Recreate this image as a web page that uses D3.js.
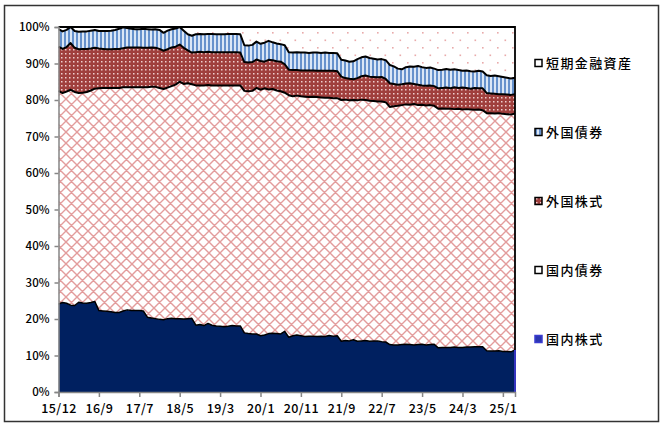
<!DOCTYPE html>
<html>
<head>
<meta charset="utf-8">
<script src="https://cdnjs.cloudflare.com/ajax/libs/d3/7.8.5/d3.min.js"></script>
<style>
  body { margin: 0; background: #fff; }
  svg text { font-family: "Noto Sans CJK JP", "Noto Sans", sans-serif; fill: #000; font-weight: 500; }
</style>
</head>
<body>
<div id="chart"></div>
<script>
// monthly shares (%), one value per category
var domesticStock = [
  24.1,24.5,24.3,23.8,23.7,24.6,24.4,24.3,24.5,24.8,
  22.3,22.2,22.1,22.0,21.8,21.8,22.2,22.5,22.3,22.3,
  22.3,22.2,20.5,20.3,20.1,19.9,19.8,20.1,20.2,20.1,
  20.1,20.0,20.1,20.2,18.3,18.5,18.2,18.8,18.3,18.1,
  18.0,17.9,18.0,18.2,18.1,18.1,16.2,16.0,15.9,15.9,
  15.4,15.6,16.0,16.1,16.0,15.9,16.6,15.0,15.4,15.6,
  15.4,15.2,15.3,15.3,15.2,15.3,15.2,15.5,15.3,15.4,
  13.9,14.1,14.0,14.3,13.9,14.0,14.1,13.9,14.0,14.0,
  13.8,13.7,13.0,12.9,12.9,13.0,13.1,13.0,12.9,13.0,
  13.1,12.9,13.0,13.1,12.1,12.2,12.2,12.2,12.3,12.2,
  12.2,12.3,12.3,12.4,12.4,12.4,11.3,11.2,11.2,11.3,
  11.1,11.1,11.0,11.5];
var domesticBond = [
  58.4,57.4,58.0,59.0,58.5,57.3,57.6,57.9,58.1,58.3,
  60.9,61.1,61.2,61.3,61.5,61.5,61.3,61.0,61.2,61.2,
  61.2,61.3,63.0,63.3,63.5,63.4,63.2,63.3,63.6,64.1,
  64.9,64.4,64.5,64.1,65.7,65.5,65.8,65.3,65.7,65.9,
  66.0,66.1,66.0,65.8,65.9,65.9,66.3,66.4,66.6,67.4,
  67.4,67.6,66.9,66.9,66.6,66.5,65.4,66.3,65.6,65.6,
  65.6,65.7,65.5,65.6,65.6,65.4,65.4,65.1,65.2,65.1,
  66.1,66.0,65.9,65.7,66.0,66.1,65.9,65.9,65.7,65.6,
  65.8,65.7,65.1,65.4,65.5,65.6,65.7,65.7,66.0,65.6,
  65.6,65.6,65.6,65.3,65.5,65.5,65.4,65.4,65.2,65.4,
  65.2,65.2,65.1,64.9,65.0,64.8,65.1,65.2,65.1,65.1,
  65.1,65.0,65.0,64.8];
var foreignStock = [
  12.1,12.1,12.2,12.8,12.1,12.0,12.0,11.8,11.5,11.2,
  10.9,10.7,10.6,10.6,10.7,10.7,10.7,10.9,10.9,10.9,
  10.9,10.8,10.8,10.8,10.7,10.7,10.5,10.5,10.6,10.4,
  10.2,9.9,9.0,8.7,9.1,9.2,9.1,9.1,9.1,9.1,
  9.1,9.1,9.1,9.1,9.1,9.0,7.9,7.9,7.9,7.8,
  7.9,7.3,8.1,7.9,8.0,8.1,7.8,7.0,7.2,7.0,
  7.1,7.2,7.3,7.2,7.2,7.3,7.4,7.4,7.5,7.4,
  6.4,5.9,5.9,5.7,6.1,6.4,6.7,6.6,6.6,6.6,
  6.7,6.4,6.5,6.1,5.8,5.7,5.7,5.9,5.5,5.6,
  5.3,5.4,5.4,5.4,5.6,5.6,5.8,5.6,6.0,5.7,
  6.0,5.8,5.7,6.0,5.8,6.0,5.5,5.4,5.4,5.2,
  5.4,5.4,5.4,5.3];
var foreignBond = [
  4.8,4.8,4.7,4.4,4.6,4.8,4.8,4.8,4.9,4.9,
  4.8,4.9,5.0,5.1,5.2,5.5,5.7,5.3,5.1,5.0,
  5.0,5.2,5.1,4.9,5.1,5.2,4.9,5.1,5.0,5.0,
  4.8,4.7,4.4,4.6,4.9,4.9,4.9,4.9,5.0,4.9,
  4.9,4.9,5.0,5.0,5.0,5.0,4.6,4.6,4.7,4.9,
  4.7,5.2,5.2,4.9,4.9,4.8,5.2,4.8,4.8,4.9,
  4.9,4.9,4.8,4.9,5.0,4.9,5.0,4.9,4.9,4.9,
  4.6,4.8,4.7,4.9,5.2,5.2,5.2,5.1,5.0,4.9,
  4.9,5.1,5.0,4.8,4.4,4.1,4.5,4.6,4.7,5.1,
  5.0,4.9,4.9,4.8,5.0,5.0,5.1,5.1,4.9,4.9,
  4.6,4.8,4.8,4.5,4.8,4.6,4.9,4.8,5.0,4.9,
  4.7,4.6,4.5,4.5];
var shortTerm = [
  0.6,1.2,0.8,0.0,1.1,1.3,1.2,1.2,1.0,0.8,
  1.1,1.1,1.1,1.0,0.8,0.5,0.1,0.3,0.5,0.6,
  0.6,0.5,0.6,0.7,0.6,0.8,1.6,1.0,0.6,0.4,
  0.0,1.0,2.0,2.4,2.0,1.9,2.0,1.9,1.9,2.0,
  2.0,2.0,1.9,1.9,1.9,2.0,5.0,5.1,4.9,4.0,
  4.6,4.3,3.8,4.2,4.5,4.7,5.0,6.9,7.0,6.9,
  7.0,7.0,7.1,7.0,7.0,7.1,7.0,7.1,7.1,7.2,
  9.0,9.2,9.5,9.4,8.8,8.3,8.1,8.5,8.7,8.9,
  8.8,9.1,10.4,10.8,11.4,11.6,11.0,10.8,10.9,10.7,
  11.0,11.2,11.1,11.4,11.8,11.7,11.5,11.7,11.6,11.8,
  12.0,11.9,12.1,12.2,12.0,12.2,13.2,13.4,13.3,13.5,
  13.7,13.9,14.1,13.9];

// axis labels: one label every 10 categories
var tickLabels = ['15/12','16/9','17/7','18/5','19/3','20/1','20/11','21/9','22/7','23/5','24/3','25/1'];
var tickEvery = 10;
var yTicks = [0,10,20,30,40,50,60,70,80,90,100];

var keys = ['ds','db','fs','fb','st'];
var seriesNames = {ds:'国内株式', db:'国内債券', fs:'外国株式', fb:'外国債券', st:'短期金融資産'};
var legendOrder = ['st','fb','fs','db','ds'];

var W = 663, H = 425;
var plot = {left: 58.5, right: 515, top: 27, bottom: 392};

var n = domesticStock.length;
var rows = d3.range(n).map(function(i) {
  return {i: i, ds: domesticStock[i], db: domesticBond[i], fs: foreignStock[i], fb: foreignBond[i], st: shortTerm[i]};
});
var layers = d3.stack().keys(keys)(rows);

var x = d3.scaleLinear().domain([0, n - 1]).range([plot.left, plot.right]);
var y = d3.scaleLinear().domain([0, 100]).range([plot.bottom, plot.top]);

var svg = d3.select('#chart').append('svg')
  .attr('width', W).attr('height', H);

// fill patterns
var defs = svg.append('defs');

var pX = defs.append('pattern').attr('id', 'p-db')
  .attr('patternUnits', 'userSpaceOnUse').attr('width', 11).attr('height', 11);
pX.append('rect').attr('width', 11).attr('height', 11).attr('fill', '#fff');
pX.append('path').attr('d', 'M0,0L11,11M11,0L0,11M-1,10L1,12M10,-1L12,1M-1,1L1,-1M10,12L12,10')
  .attr('stroke', '#e39c9c').attr('stroke-width', 1.4);

var pR = defs.append('pattern').attr('id', 'p-fs')
  .attr('patternUnits', 'userSpaceOnUse').attr('width', 4).attr('height', 4);
pR.append('rect').attr('width', 4).attr('height', 4).attr('fill', '#a03f3d');
pR.append('rect').attr('x', 1).attr('y', 1).attr('width', 1.5).attr('height', 1.5).attr('fill', '#f0cfcf');

var pB = defs.append('pattern').attr('id', 'p-fb')
  .attr('patternUnits', 'userSpaceOnUse').attr('width', 4).attr('height', 4);
pB.append('rect').attr('width', 4).attr('height', 4).attr('fill', '#dae6f6');
pB.append('rect').attr('width', 2).attr('height', 4).attr('fill', '#6691cc');

var pS = defs.append('pattern').attr('id', 'p-st')
  .attr('patternUnits', 'userSpaceOnUse').attr('width', 15).attr('height', 15);
pS.append('rect').attr('width', 15).attr('height', 15).attr('fill', '#fff');
pS.append('rect').attr('x', 2).attr('y', 2).attr('width', 1.6).attr('height', 1.6).attr('fill', '#e9aaaa');
pS.append('rect').attr('x', 9.5).attr('y', 9.5).attr('width', 1.6).attr('height', 1.6).attr('fill', '#e9aaaa');

var fills = {ds: '#002060', db: 'url(#p-db)', fs: 'url(#p-fs)', fb: 'url(#p-fb)', st: 'url(#p-st)'};

defs.append('clipPath').attr('id', 'clip').append('rect')
  .attr('x', plot.left).attr('y', plot.top)
  .attr('width', plot.right - plot.left).attr('height', plot.bottom - plot.top);

// outer frame
svg.append('rect').attr('x', 4.5).attr('y', 5.5).attr('width', 654).attr('height', 416)
  .attr('fill', 'none').attr('stroke', '#333').attr('stroke-width', 1.5);

var g = svg.append('g').attr('clip-path', 'url(#clip)');

var area = d3.area()
  .x(function(d) { return x(d.data.i); })
  .y0(function(d) { return y(d[0]); })
  .y1(function(d) { return y(d[1]); });

g.selectAll('.layer').data(layers).enter().append('path')
  .attr('class', 'layer')
  .attr('d', area)
  .attr('fill', function(d) { return fills[d.key]; });

// borders between the layers
var topLine = d3.line()
  .x(function(d) { return x(d.data.i); })
  .y(function(d) { return y(d[1]); });

g.selectAll('.edge').data(layers.slice(0, 4)).enter().append('path')
  .attr('class', 'edge')
  .attr('d', topLine)
  .attr('fill', 'none')
  .attr('stroke', '#000')
  .attr('stroke-width', function(d, i) { return i === 0 ? 1.5 : 2; })
  .attr('stroke-linejoin', 'round');

// plot border (top and right)
svg.append('path')
  .attr('d', 'M' + plot.left + ',' + plot.top + 'H' + plot.right + 'V' + plot.bottom)
  .attr('fill', 'none').attr('stroke', '#000').attr('stroke-width', 1.8);

// blue edge of the domestic stock area at the right side
svg.append('line')
  .attr('x1', plot.right).attr('x2', plot.right)
  .attr('y1', y(layers[0][n - 1][1])).attr('y2', plot.bottom)
  .attr('stroke', '#3535c0').attr('stroke-width', 2);

// y axis
var yAxis = svg.append('g').attr('transform', 'translate(' + plot.left + ',0)')
  .call(d3.axisLeft(y).tickValues(yTicks).tickSize(4).tickFormat(function(d) { return d + '%'; }));
yAxis.selectAll('text').attr('font-size', '11.5px').attr('x', -9);

// x axis
var xAxis = svg.append('g').attr('transform', 'translate(0,' + plot.bottom + ')')
  .call(d3.axisBottom(x)
    .tickValues(tickLabels.map(function(l, k) { return k * tickEvery; }))
    .tickSize(5)
    .tickFormat(function(d) { return tickLabels[d / tickEvery]; }));
xAxis.selectAll('text').attr('font-size', '12.5px').attr('dy', '1.05em').attr('letter-spacing', '0.4px');

svg.selectAll('.domain, .tick line').attr('stroke', '#868686').attr('stroke-width', 1.5);

// legend
var legend = svg.append('g').selectAll('g').data(legendOrder).enter().append('g')
  .attr('transform', function(d, k) { return 'translate(535,' + (63 + k * 69) + ')'; });

legend.append('rect')
  .attr('x', 0).attr('y', -3.5).attr('width', 7).attr('height', 7)
  .attr('fill', function(d) { return d === 'ds' ? '#2a36b0' : d === 'db' ? '#fff' : d === 'st' ? '#fff' : fills[d]; })
  .attr('stroke', function(d) { return d === 'ds' ? '#3c3cd0' : '#000'; })
  .attr('stroke-width', 1.5);

legend.append('text')
  .attr('x', 11).attr('dy', '0.36em')
  .attr('font-size', '13px').attr('letter-spacing', '1.4px')
  .text(function(d) { return seriesNames[d]; });
</script>
</body>
</html>
